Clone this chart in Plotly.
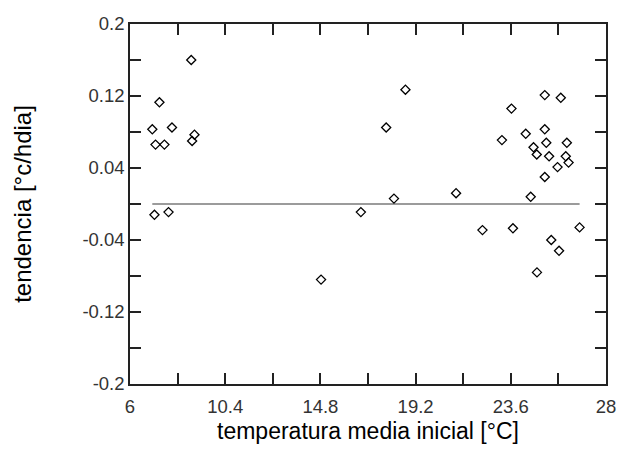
import plotly.graph_objects as go

# Data
temp_x = [8.83, 7.36, 7.03, 7.94, 7.18, 7.59, 8.98, 8.87, 7.13, 7.78,
          18.73, 17.84, 18.20, 16.67, 21.07, 14.83,
          24.52, 25.17, 25.91, 23.63, 25.17, 24.29, 23.19, 25.24, 26.19, 24.65,
          24.80, 25.37, 26.14, 26.27, 25.76, 25.17, 22.29, 23.70, 25.47, 25.83,
          24.81, 26.78]
trend_y = [0.160, 0.113, 0.083, 0.085, 0.066, 0.066, 0.077, 0.070, -0.012, -0.009,
           0.127, 0.085, 0.006, -0.009, 0.012, -0.084,
           0.008, 0.121, 0.118, 0.106, 0.083, 0.078, 0.071, 0.068, 0.068, 0.063,
           0.055, 0.053, 0.053, 0.046, 0.041, 0.030, -0.029, -0.027, -0.040, -0.052,
           -0.076, -0.026]
zero_level = 0.0

x_tickvals = [6, 8.2, 10.4, 12.6, 14.8, 17.0, 19.2, 21.4, 23.6, 25.8, 28]
x_ticktext = ["6", "", "10.4", "", "14.8", "", "19.2", "", "23.6", "", "28"]
y_tickvals = [-0.2, -0.16, -0.12, -0.08, -0.04, 0.0, 0.04, 0.08, 0.12, 0.16, 0.2]
y_ticktext = ["-0.2", "", "-0.12", "", "-0.04", "", "0.04", "", "0.12", "", "0.2"]

FONT = "Liberation Sans, Arial, sans-serif"

fig = go.Figure()
fig.add_trace(go.Scatter(
    x=[min(temp_x), max(temp_x)], y=[zero_level, zero_level],
    mode="lines", line=dict(color="#7a7a7a", width=1.3),
    showlegend=False, hoverinfo="skip"))
fig.add_trace(go.Scatter(
    x=temp_x, y=trend_y, mode="markers",
    marker=dict(symbol="diamond-open", size=7, color="black",
                line=dict(color="black", width=1.3)),
    showlegend=False))

axis_common = dict(
    showgrid=False, zeroline=False, showline=True, linecolor="#222222",
    linewidth=1.5, mirror="allticks", ticks="inside", ticklen=11,
    tickwidth=1.5, tickcolor="#222222",
    tickfont=dict(family=FONT, size=18.5, color="#333333"),
)

fig.update_layout(
    width=628, height=452,
    margin=dict(l=130, r=13, t=24, b=66),
    paper_bgcolor="white", plot_bgcolor="white",
    xaxis=dict(range=[6, 28], tickmode="array", tickvals=x_tickvals,
               ticktext=x_ticktext, ticklabelstandoff=5,
               title=dict(text="temperatura media inicial [°C]", standoff=7,
                          font=dict(family=FONT, size=23, color="black")),
               **axis_common),
    yaxis=dict(range=[-0.2, 0.2], tickmode="array", tickvals=y_tickvals,
               ticktext=y_ticktext,
               title=dict(text="tendencia [°c/hdia]", standoff=44,
                          font=dict(family=FONT, size=24, color="black")),
               **axis_common),
)

fig.write_html("out.html")
